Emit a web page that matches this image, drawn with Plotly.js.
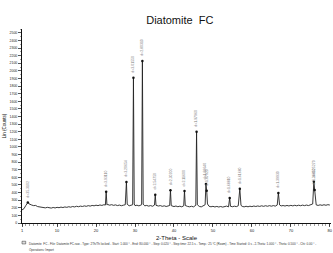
<!DOCTYPE html>
<html><head><meta charset="utf-8">
<script src="https://cdn.plot.ly/plotly-3.0.1.min.js"></script>
<style>html,body{margin:0;padding:0;background:#fff}#c{width:333px;height:253px}</style>
</head><body><div id="c"></div>
<script>
const twoTheta = [1.0,1.5,2.0,2.3,2.5,2.8,3.0,3.5,4.0,4.5,5.0,5.5,6.0,6.5,7.0,7.5,8.0,8.5,9.0,9.5,
10.0,10.5,11.0,11.5,12.0,12.5,13.0,13.5,14.0,14.5,15.0,15.5,16.0,16.5,17.0,17.5,18.0,18.5,19.0,19.5,
20.0,20.5,21.0,21.5,22.0,22.4,22.6,22.8,23.0,23.5,24.0,24.5,25.0,25.5,26.0,26.5,27.0,27.5,27.8,28.0,
28.5,29.0,29.4,29.6,29.8,30.0,30.5,31.0,31.5,31.7,31.9,32.1,32.5,33.0,33.5,34.0,34.5,35.0,35.2,35.4,
36.0,36.5,37.0,37.5,38.0,38.5,38.9,39.1,39.3,40.0,40.5,41.0,41.5,42.0,42.5,42.7,42.9,43.5,44.0,44.5,
45.0,45.6,45.8,46.0,46.5,47.0,47.5,48.0,48.2,48.4,48.6,49.0,49.5,50.0,50.5,51.0,51.5,52.0,52.5,53.0,
53.5,54.0,54.3,54.5,55.0,55.5,56.0,56.5,56.9,57.2,57.5,58.0,58.5,59.0,59.5,60.0,60.5,61.0,61.5,62.0,
62.5,63.0,63.5,64.0,64.5,65.0,65.5,66.0,66.5,66.8,67.1,67.5,68.0,68.5,69.0,69.5,70.0,70.5,71.0,71.5,
72.0,72.5,73.0,73.5,74.0,74.5,75.0,75.6,75.9,76.1,76.3,76.5,77.0,77.5,78.0,78.5,79.0,79.5,80.0];
const counts = [172,188,232,258,270,252,246,236,228,231,216,213,206,211,199,206,201,196,204,198,
206,201,209,203,211,206,214,208,217,211,220,214,222,217,225,219,228,222,231,226,
234,228,237,231,240,236,410,238,243,234,241,232,238,229,236,227,234,240,540,246,
226,232,240,1910,250,228,234,225,238,240,2130,248,226,231,222,229,220,236,370,232,
223,229,219,226,217,224,230,430,228,216,223,214,221,213,226,420,230,218,213,220,
212,232,1200,240,218,212,222,240,513,425,250,220,213,219,211,218,210,217,209,216,
222,212,330,220,214,221,215,226,450,232,219,212,220,213,221,215,223,217,224,218,
226,219,227,220,228,221,229,222,236,395,238,224,230,223,231,224,232,225,233,226,
234,227,235,228,236,229,237,250,543,434,262,238,231,239,232,240,233,241,236];

const peakPos = [2.5,22.6,27.8,29.6,31.9,35.2,39.1,42.7,45.8,48.2,48.4,54.3,56.9,66.8,75.9,76.1];
const peakCounts = [270,410,540,1910,2130,370,430,420,1200,513,425,330,450,395,543,434];
const peakLabels = ['d=35.3102','d=3.93110','d=3.20654','d=3.01550','d=2.80310','d=2.54750','d=2.30200','d=2.11600',
'd=1.97960','d=1.88640','d=1.87920','d=1.68810','d=1.61680','d=1.39930','d=1.25270','d=1.24850'];

const xTicks = [1,10,20,30,40,50,60,70,80];
const legendText = 'Diatomite  FC - File: Diatomite FC.raw - Type: 2Th/Th locked - Start: 1.000 ° - End: 80.000 ° - Step: 0.020 ° - Step time: 22.5 s - Temp.: 25 °C (Room) - Time Started: 0 s - 2-Theta: 1.000 ° - Theta: 0.500 ° - Chi: 0.00 ° -';
const legendText2 = 'Operations: Import';

const F = 'Liberation Sans, Arial, sans-serif';
const traces = [
  {x: twoTheta, y: counts, type:'scatter', mode:'lines', line:{color:'#222', width:0.9}, hoverinfo:'skip'},
  {x: peakPos, y: peakCounts, type:'scatter', mode:'markers', marker:{color:'#111', size:2.5}, hoverinfo:'skip'}
];
const annotations = peakPos.map((p,i)=>({x:p, y:peakCounts[i], xref:'x', yref:'y', text:peakLabels[i],
  textangle:-90, showarrow:false, xanchor:'center', yanchor:'bottom', yshift:3,
  font:{family:F, size:3.5, color:'#777'}}));
annotations.push({xref:'paper', yref:'paper', x:0.015, y:-0.088, xanchor:'left', yanchor:'top', showarrow:false,
  text:legendText, font:{family:F, size:3.0, color:'#333'}});
annotations.push({xref:'paper', yref:'paper', x:0.015, y:-0.118, xanchor:'left', yanchor:'top', showarrow:false,
  text:legendText2, font:{family:F, size:3.0, color:'#333'}});

const layout = {
  width:333, height:253,
  margin:{l:22, r:2, t:29, b:30},
  paper_bgcolor:'#fff', plot_bgcolor:'#fff',
  showlegend:false,
  title:{text:'Diatomite  FC', font:{family:F, size:11, color:'#111'}, x:0.54, xanchor:'center', y:0.92, yanchor:'middle'},
  xaxis:{range:[1,80.3], showgrid:false, zeroline:false, showline:true, linecolor:'#111', linewidth:1,
    tickmode:'array', tickvals:xTicks, ticks:'outside', ticklen:3, tickcolor:'#111', tickwidth:0.7,
    minor:{dtick:1, tick0:0, ticks:'outside', ticklen:2, tickcolor:'#444', tickwidth:0.5},
    tickfont:{family:F, size:4, color:'#222'},
    title:{text:'2-Theta - Scale', font:{family:F, size:6, color:'#111'}, standoff:4}},
  yaxis:{range:[0,2550], showgrid:false, zeroline:false, showline:true, linecolor:'#111', linewidth:1,
    dtick:100, tick0:0, ticks:'outside', ticklen:3, tickcolor:'#111', tickwidth:0.7,
    minor:{dtick:50, ticks:'outside', ticklen:1.5, tickcolor:'#444', tickwidth:0.5},
    tickfont:{family:F, size:3.5, color:'#222'},
    title:{text:'Lin (Counts)', font:{family:F, size:4.5, color:'#111'}, standoff:2}},
  annotations: annotations,
  shapes:[
    {type:'rect', xref:'paper', yref:'paper', x0:0.0, x1:0.012, y0:-0.094, y1:-0.108, line:{color:'#333', width:0.5}, fillcolor:'#ddd'}
  ]
};
Plotly.newPlot('c', traces, layout, {staticPlot:true, displayModeBar:false});
</script></body></html>
